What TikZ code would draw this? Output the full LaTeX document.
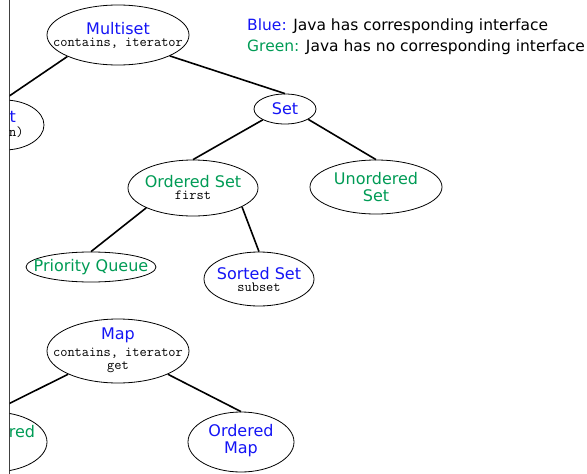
\documentclass[tikz,border=0pt]{standalone}
\usepackage{fontspec}
\setmainfont{DejaVu Sans}
\usetikzlibrary{shapes.geometric}
\definecolor{jblue}{RGB}{20,20,245}
\definecolor{jgreen}{RGB}{0,155,85}
\tikzset{
  ell/.style={draw, ellipse, line width=0.8pt, inner sep=0pt},
  treeedge/.style={line width=1.6pt},
  lbl/.style={align=center, font=\fontsize{16}{17}\selectfont, inner sep=0pt},
  legend/.style={anchor=base west, font=\fontsize{15.5}{17}\selectfont, inner sep=0pt},
}
\newcommand\mytt[1]{{\ttfamily\fontsize{14}{13}\selectfont #1}}
\begin{document}
\begin{tikzpicture}[x=1pt,y=-1pt]
\useasboundingbox (0,0) rectangle (587,474);
\draw[line width=0.8pt, black!75] (9.5,0) -- (9.5,474);
\begin{scope}
\clip (9.5,-10) rectangle (600,490);
% ellipses
\node[ell, minimum width=142pt, minimum height=60pt] (ms) at (118,35) {};
\node[ell, minimum width=80pt, minimum height=50pt] (list) at (4,125) {};
\node[ell, minimum width=62pt, minimum height=30pt] (set) at (285,109) {};
\node[ell, minimum width=130pt, minimum height=56pt] (os) at (193,188) {};
\node[ell, minimum width=132pt, minimum height=54pt] (us) at (376,187) {};
\node[ell, minimum width=130pt, minimum height=30pt] (pq) at (91,267) {};
\node[ell, minimum width=110pt, minimum height=54pt] (ss) at (259,279) {};
\node[ell, minimum width=142pt, minimum height=64pt] (map) at (118,351) {};
\node[ell, minimum width=108pt, minimum height=60pt] (um) at (-7,442) {};
\node[ell, minimum width=106pt, minimum height=60pt] (om) at (241,442) {};
% labels
\node[lbl] (ms-t) at (ms) {\textcolor{jblue}{Multiset}\\[-5pt]\mytt{contains, iterator}};
\node[lbl] (list-t) at ([xshift=-2pt]list.center) {\textcolor{jblue}{List}\\[-3pt]\mytt{get(n)}};
\node[lbl] (set-t) at (set) {\textcolor{jblue}{Set}};
\node[lbl] (os-t) at ([yshift=1pt]os.center) {\textcolor{jgreen}{Ordered Set}\\[-5pt]\mytt{first}};
\node[lbl] (us-t) at (us) {\textcolor{jgreen}{Unordered}\\\textcolor{jgreen}{Set}};
\node[lbl] (pq-t) at (pq) {\textcolor{jgreen}{Priority Queue}};
\node[lbl] (ss-t) at (ss) {\textcolor{jblue}{Sorted Set}\\[-5pt]\mytt{subset}};
\node[lbl] (map-t) at ([yshift=1pt]map.center) {\textcolor{jblue}{Map}\\[0pt]\mytt{contains, iterator}\\[-4pt]\mytt{get}};
\node[lbl] (um-t) at (um) {\textcolor{jgreen}{Unordered}\\\textcolor{jgreen}{Map}};
\node[lbl] (om-t) at ([yshift=1pt]om.center) {\textcolor{jblue}{Ordered}\\\textcolor{jblue}{Map}};
% edges
\draw[treeedge] (ms.203.7) -- (list.north);
\draw[treeedge] (ms.-22.9) -- (set.north);
\draw[treeedge] (set.206.6) -- (os.north);
\draw[treeedge] (set.-24.4) -- (us.north);
\draw[treeedge] (os.203.5) -- (pq.north);
\draw[treeedge] (os.-21.6) -- (ss.north);
\draw[treeedge] (map.205.6) -- (um.north);
\draw[treeedge] (map.-25.6) -- (om.north);
\end{scope}
% legend
\node[legend] (leg1) at (247,30) {\textcolor{jblue}{Blue:} Java has corresponding interface};
\node[legend] (leg2) at (247,51) {\textcolor{jgreen}{Green:} Java has no corresponding interface};
\end{tikzpicture}
\end{document}
